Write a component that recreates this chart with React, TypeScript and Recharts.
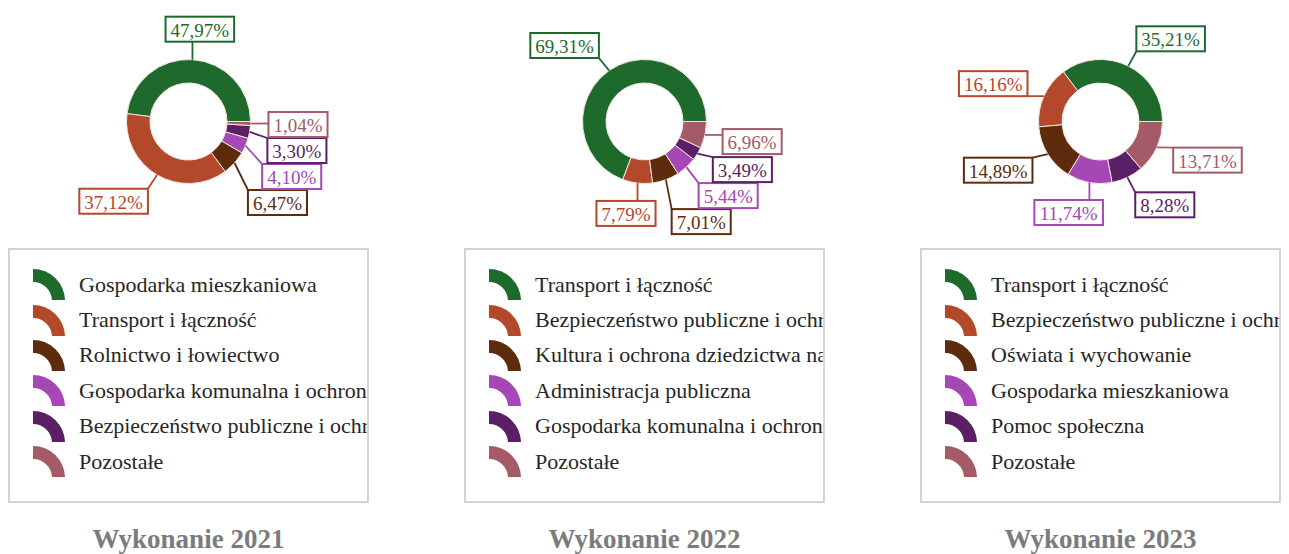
import React from "react";
import { Cell, Pie, PieChart } from "recharts";

const SERIF = '"Liberation Serif", "Times New Roman", serif';

const COLORS = ["#1e6a2d", "#b4482a", "#5e2c0c", "#a548b5", "#5a1f64", "#a45b67"];

const categories2021 = [
  "Gospodarka mieszkaniowa",
  "Transport i łączność",
  "Rolnictwo i łowiectwo",
  "Gospodarka komunalna i ochrona środowiska",
  "Bezpieczeństwo publiczne i ochrona przeciwpożarowa",
  "Pozostałe",
];
const values2021 = [47.97, 37.12, 6.47, 4.1, 3.3, 1.04];

const categories2022 = [
  "Transport i łączność",
  "Bezpieczeństwo publiczne i ochrona przeciwpożarowa",
  "Kultura i ochrona dziedzictwa narodowego",
  "Administracja publiczna",
  "Gospodarka komunalna i ochrona środowiska",
  "Pozostałe",
];
const values2022 = [69.31, 7.79, 7.01, 5.44, 3.49, 6.96];

const categories2023 = [
  "Transport i łączność",
  "Bezpieczeństwo publiczne i ochrona przeciwpożarowa",
  "Oświata i wychowanie",
  "Gospodarka mieszkaniowa",
  "Pomoc społeczna",
  "Pozostałe",
];
const values2023 = [35.21, 16.16, 14.89, 11.74, 8.28, 13.71];

const titles = ["Wykonanie 2021", "Wykonanie 2022", "Wykonanie 2023"];

const LABEL_FS = 19;
const LABEL_GAP = 18;
const BOX_H = 25;

const fmt = (v: number) => v.toFixed(2).replace(".", ",") + "%";

// Times metrics: digits 0.5em, comma 0.25em, percent 0.833em
function textWidth(s: string) {
  let w = 0;
  for (const ch of s) w += ch === "," ? 0.25 : ch === "%" ? 0.833 : 0.5;
  return w * LABEL_FS;
}

const clamp = (v: number, lo: number, hi: number) => Math.max(lo, Math.min(hi, v));

type Box = { x: number; y: number; w: number; h: number; ax: number; ay: number; right: boolean };

// place boxes just outside the ring, then push overlapping ones down on each side
function layoutLabels(values: number[], cx: number, cy: number, r: number): Box[] {
  const total = values.reduce((a, b) => a + b, 0);
  let acc = 0;
  const boxes = values.map((v) => {
    const mid = ((acc + v / 2) / total) * 360;
    acc += v;
    const rad = (mid * Math.PI) / 180;
    const cos = Math.cos(rad);
    const sin = Math.sin(rad);
    const ex = cx + (r + LABEL_GAP) * cos;
    const ey = cy - (r + LABEL_GAP) * sin;
    const w = textWidth(fmt(v)) + 10;
    const fx = clamp(cos / 0.35, -1, 1);
    return {
      x: ex + (fx * w) / 2,
      y: ey - (sin * BOX_H) / 2,
      w,
      h: BOX_H,
      ax: cx + r * cos,
      ay: cy - r * sin,
      right: cos >= 0,
    };
  });
  [true, false].forEach((side) => {
    const list = boxes.filter((b) => b.right === side).sort((a, b) => a.y - b.y);
    for (let k = 1; k < list.length; k++) {
      const minY = list[k - 1].y + BOX_H + 1;
      if (list[k].y < minY) list[k].y = minY;
    }
  });
  return boxes;
}

const makeLabel = (values: number[]) => (props: any) => {
  const { cx, cy, outerRadius, index } = props;
  const b = layoutLabels(values, cx, cy, outerRadius)[index];
  const color = COLORS[index];
  const x0 = b.x - b.w / 2;
  const y0 = b.y - b.h / 2;
  const px = clamp(b.ax, x0, x0 + b.w);
  const py = clamp(b.ay, y0, y0 + b.h);
  return (
    <g key={`lbl-${index}`}>
      <line x1={b.ax} y1={b.ay} x2={px} y2={py} stroke={color} strokeWidth={1.8} />
      <rect x={x0} y={y0} width={b.w} height={b.h} fill="#ffffff" stroke={color} strokeWidth={2} />
      <text
        x={b.x}
        y={b.y + 1}
        textAnchor="middle"
        dominantBaseline="central"
        fontSize={LABEL_FS}
        fontFamily={SERIF}
        fill={color}
      >
        {fmt(values[index])}
      </text>
    </g>
  );
};

function ArcIcon({ color }: { color: string }) {
  return (
    <svg width={34} height={31} style={{ flex: "none" }}>
      <path d="M 1 0 A 32 32 0 0 1 33 31 L 20 31 A 19 19 0 0 0 1 13 Z" fill={color} />
    </svg>
  );
}

function Panel({ title, categories, values }: { title: string; categories: string[]; values: number[] }) {
  const data = categories.map((name, i) => ({ name, value: values[i] }));
  return (
    <div style={{ width: 361, flex: "none" }}>
      <PieChart width={361} height={240} margin={{ top: 0, right: 0, bottom: 0, left: 0 }}>
        <Pie
          data={data}
          dataKey="value"
          nameKey="name"
          cx={180.5}
          cy={113.5}
          innerRadius={38.5}
          outerRadius={62}
          startAngle={0}
          endAngle={360}
          stroke="#f3e6e0"
          strokeWidth={1}
          label={makeLabel(values)}
          labelLine={false}
          isAnimationActive={false}
        >
          {data.map((d, i) => (
            <Cell key={d.name} fill={COLORS[i]} />
          ))}
        </Pie>
      </PieChart>
      <div
        style={{
          boxSizing: "border-box",
          height: 255,
          border: "2px solid #d4d4d4",
          overflow: "hidden",
          paddingTop: 17,
          paddingLeft: 22,
        }}
      >
        {categories.map((c, i) => (
          <div key={c} style={{ display: "flex", alignItems: "center", height: 35.4, whiteSpace: "nowrap" }}>
            <ArcIcon color={COLORS[i]} />
            <span style={{ marginLeft: 13, fontFamily: SERIF, fontSize: 22, color: "#262626" }}>{c}</span>
          </div>
        ))}
      </div>
      <div
        style={{
          marginTop: 21,
          textAlign: "center",
          fontFamily: SERIF,
          fontWeight: "bold",
          fontSize: 27,
          lineHeight: "31px",
          color: "#7b7b7b",
        }}
      >
        {title}
      </div>
    </div>
  );
}

export default function App() {
  return (
    <div style={{ display: "flex", gap: 95, width: 1273, background: "#ffffff" }}>
      <Panel title={titles[0]} categories={categories2021} values={values2021} />
      <Panel title={titles[1]} categories={categories2022} values={values2022} />
      <Panel title={titles[2]} categories={categories2023} values={values2023} />
    </div>
  );
}
